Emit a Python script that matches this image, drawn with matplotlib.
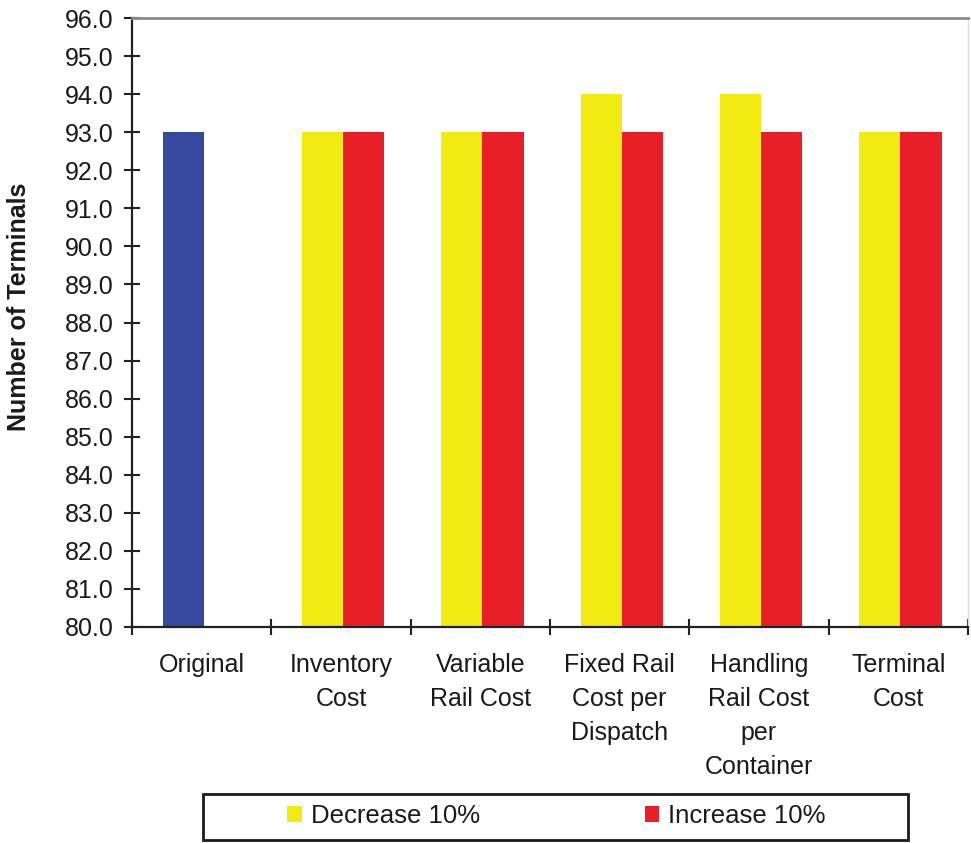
import matplotlib
matplotlib.use("Agg")
import matplotlib.pyplot as plt
from matplotlib.patches import Rectangle, Patch
import numpy as np

plt.rcParams['font.family'] = ['Liberation Sans', 'DejaVu Sans']

categories = ["Original", "Inventory\nCost", "Variable\nRail Cost",
              "Fixed Rail\nCost per\nDispatch", "Handling\nRail Cost\nper\nContainer",
              "Terminal\nCost"]
original = [93.0]
decrease_10 = [np.nan, 93.0, 93.0, 94.0, 94.0, 93.0]
increase_10 = [np.nan, 93.0, 93.0, 93.0, 93.0, 93.0]
y_ticks = np.arange(80.0, 96.5, 1.0)

BLUE = "#36499C"
YELLOW = "#F2EB12"
RED = "#E81F27"

W, H = 971, 843
fig = plt.figure(figsize=(W / 100, H / 100), dpi=100)
left, right, top, bottom = 132, 968, 18, 627
ax = fig.add_axes([left / W, 1 - bottom / H, (right - left) / W, (bottom - top) / H])

fs = 18
bw = 0.295
shift = 0.015
centers = np.arange(len(categories)) + 0.5 + shift

ax.bar(centers[:1] - bw / 2, np.array(original) - 80, bottom=80, width=bw,
       color=BLUE, edgecolor="none")
ax.bar(centers - bw / 2, np.array(decrease_10) - 80, bottom=80, width=bw,
       color=YELLOW, edgecolor="none")
ax.bar(centers + bw / 2, np.array(increase_10) - 80, bottom=80, width=bw,
       color=RED, edgecolor="none")

ax.set_xlim(0, len(categories))
ax.set_ylim(80, 96)

ax.set_yticks(y_ticks)
ax.set_yticklabels([f"{v:.1f}" for v in y_ticks], fontsize=fs, color="#1a1a1a")
ax.tick_params(axis="y", direction="inout", length=11, width=1.5, pad=8, color="#222222")

# category separators as major ticks, names as minor ticks
ax.set_xticks(np.arange(len(categories) + 1))
ax.set_xticklabels([])
ax.set_xticks(np.arange(len(categories)) + 0.5, minor=True)
ax.set_xticklabels(categories, minor=True, fontsize=fs, color="#1a1a1a",
                   linespacing=1.52)
ax.tick_params(axis="x", which="major", direction="inout", length=11, width=1.5,
               color="#222222")
ax.tick_params(axis="x", which="minor", length=0, pad=19)

for s in ("left", "bottom"):
    ax.spines[s].set_linewidth(1.6)
    ax.spines[s].set_color("#222222")
ax.spines["top"].set_color("#8a8a8a")
ax.spines["top"].set_linewidth(2.0)
ax.spines["right"].set_color("#dcdcdc")
ax.spines["right"].set_linewidth(1.0)

fig.text(19 / W, 1 - 306.5 / H, "Number of Terminals", rotation=90, ha="center",
         va="center", fontsize=18, fontweight="bold", color="#1a1a1a")

# legend frame
fig.patches.append(Rectangle((203 / W, 1 - 840 / H), (908 - 203) / W, (840 - 794) / H,
                             transform=fig.transFigure, fill=False,
                             edgecolor="#1a1a1a", linewidth=2.0))
handles = [Patch(facecolor=YELLOW, edgecolor="none", label="Decrease 10%"),
           Patch(facecolor=RED, edgecolor="none", label="Increase 10%")]
leg = fig.legend(handles=handles, loc="center", ncol=2,
                 bbox_to_anchor=(556.5 / W, 1 - 816 / H), frameon=False,
                 fontsize=18.5, handlelength=0.58, handleheight=0.58,
                 handletextpad=0.35, columnspacing=6.4)
for t in leg.get_texts():
    t.set_color("#1a1a1a")

fig.savefig("out.png", dpi=100, facecolor="white")
